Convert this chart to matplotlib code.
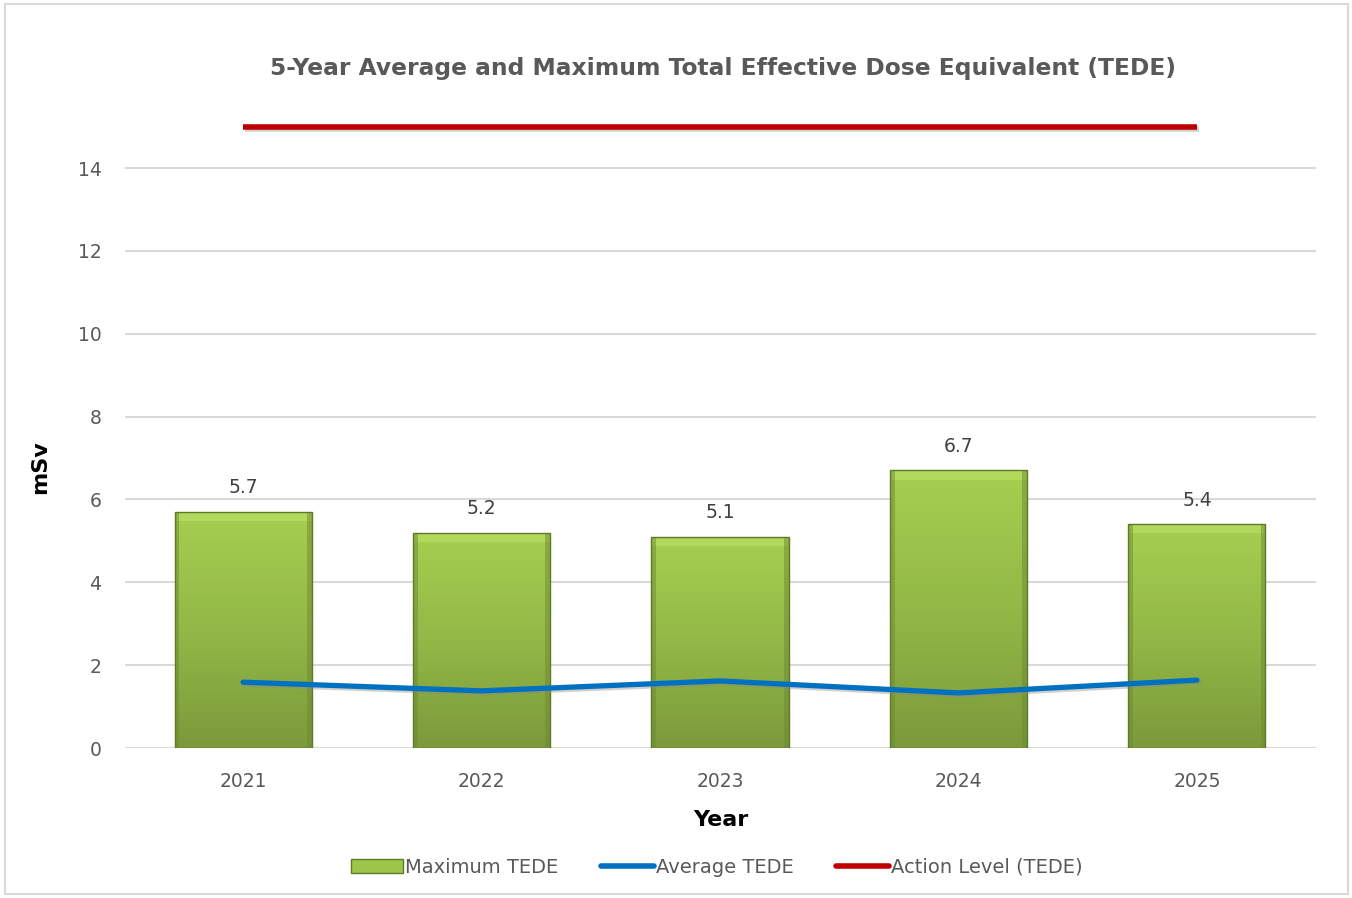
import numpy as np
import matplotlib
matplotlib.use('Agg')
import matplotlib.pyplot as plt
import matplotlib.patheffects as pe
from matplotlib.colors import LinearSegmentedColormap
from matplotlib.patches import Rectangle
from matplotlib.lines import Line2D

years = ['2021', '2022', '2023', '2024', '2025']
max_tede = [5.7, 5.2, 5.1, 6.7, 5.4]
avg_tede = [1.59, 1.38, 1.62, 1.33, 1.64]
action_level = [15, 15, 15, 15, 15]
yticks = [0, 2, 4, 6, 8, 10, 12, 14]

plt.rcParams['font.family'] = ['DejaVu Sans']
text_grey = '#595959'

fig = plt.figure(figsize=(13.52, 8.98), dpi=100)
fig.patches.append(Rectangle((0.004, 0.004), 0.993, 0.991, transform=fig.transFigure,
                             fill=False, edgecolor='#d9d9d9', linewidth=1.5))
ax = fig.add_axes([0.0925, 0.167, 0.881, 0.715])

x = np.arange(len(years))
bar_w = 0.575
green = LinearSegmentedColormap.from_list('g', ['#7b9a3b', '#93b847', '#a6cf50'])
grad = np.linspace(0, 1, 256).reshape(-1, 1)

bars = ax.bar(x, max_tede, width=bar_w, color='none', edgecolor='#5d7a26', linewidth=1.0, zorder=3)
for b in bars:
    im = ax.imshow(grad, cmap=green, aspect='auto', origin='lower',
                   extent=[b.get_x(), b.get_x() + b.get_width(), 0, b.get_height()], zorder=2)
    im.set_clip_path(b)
    # bevel: light top strip, darker side strips
    ax.add_patch(Rectangle((b.get_x(), b.get_height() - 0.22), b.get_width(), 0.22,
                           facecolor='#b8de62', edgecolor='none', alpha=0.7, zorder=2.5))
    ax.add_patch(Rectangle((b.get_x(), 0), 0.02, b.get_height(),
                           facecolor='#6d8a32', edgecolor='none', alpha=0.5, zorder=2.5))
    ax.add_patch(Rectangle((b.get_x() + b.get_width() - 0.02, 0), 0.02, b.get_height(),
                           facecolor='#6d8a32', edgecolor='none', alpha=0.5, zorder=2.5))

for xi, v in zip(x, max_tede):
    ax.text(xi, v + 0.35, f'{v:.1f}', ha='center', va='bottom', fontsize=13.5, color='#404040')

shadow = [pe.SimpleLineShadow(offset=(1.5, -1.5), shadow_color='#888888', alpha=0.4), pe.Normal()]
ax.plot(x, avg_tede, color='#0070c0', linewidth=3.8, solid_capstyle='round', zorder=4,
        path_effects=shadow)
ax.plot(x, action_level, color='#c00000', linewidth=4, solid_capstyle='butt', zorder=4,
        clip_on=False, path_effects=shadow)

ax.set_xlim(-0.495, 4.5)
ax.set_ylim(0, 15.5)
ax.set_yticks(yticks)
ax.set_xticks(x)
ax.set_xticklabels(years)
ax.tick_params(axis='both', length=0, labelsize=13.5, labelcolor=text_grey)
ax.tick_params(axis='x', pad=17)
ax.tick_params(axis='y', pad=17)
for yv in yticks:
    ax.axhline(yv, color='#d9d9d9', linewidth=1.5, zorder=1)
for s in ax.spines.values():
    s.set_visible(False)

ax.set_xlabel('Year', fontsize=16, fontweight='bold', color='black', labelpad=14)
ax.set_ylabel('mSv', fontsize=16, fontweight='bold', color='black')
ax.yaxis.set_label_coords(-0.063, 6.78 / 15.5)
fig.text(0.535, 0.924, '5-Year Average and Maximum Total Effective Dose Equivalent (TEDE)',
         ha='center', va='center', fontsize=16.8, fontweight='bold', color=text_grey)

handles = [Rectangle((0, 0), 1, 1, facecolor='#9cc64a', edgecolor='#5d7a26'),
           Line2D([], [], color='#0070c0', linewidth=4, solid_capstyle='round'),
           Line2D([], [], color='#c00000', linewidth=4, solid_capstyle='round')]
fig.legend(handles, ['Maximum TEDE', 'Average TEDE', 'Action Level (TEDE)'],
           loc='center', bbox_to_anchor=(0.53, 0.034), ncol=3, frameon=False,
           fontsize=14, labelcolor=text_grey, handlelength=2.7, handletextpad=0.1,
           columnspacing=2.2)

fig.savefig('out.png', dpi=100)
